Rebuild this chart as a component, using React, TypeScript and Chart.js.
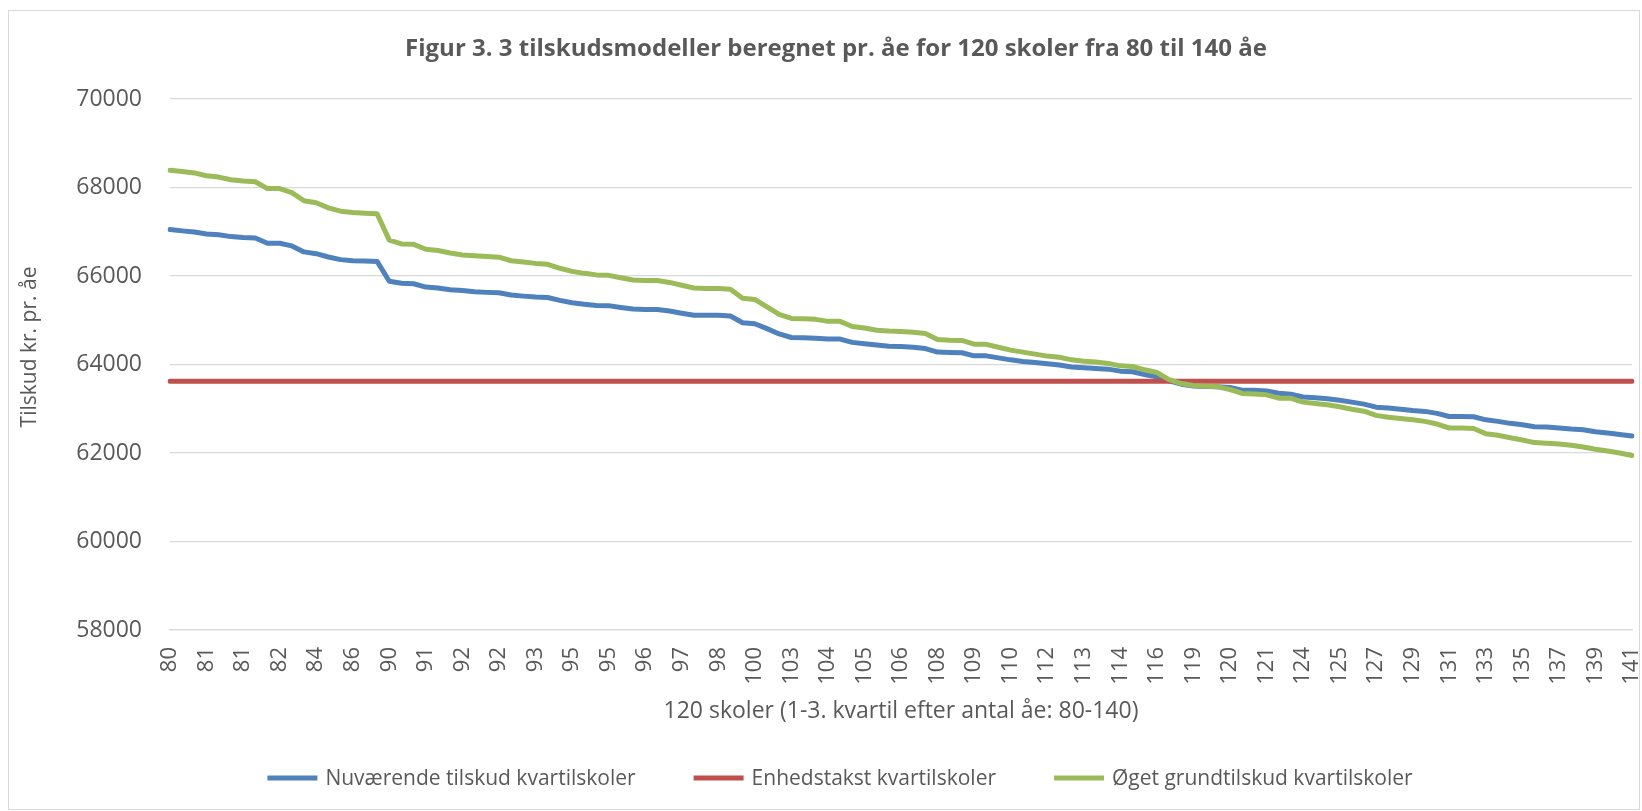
import React, { useEffect, useRef } from "react";
import { Chart, registerables } from "chart.js";

Chart.register(...registerables);

const TITLE = "Figur 3. 3 tilskudsmodeller beregnet pr. åe for 120 skoler fra 80 til 140 åe";
const X_TITLE = "120 skoler (1-3. kvartil efter antal åe: 80-140)";
const Y_TITLE = "Tilskud kr. pr. åe";

const SERIES_NAMES = [
  "Nuværende tilskud kvartilskoler",
  "Enhedstakst kvartilskoler",
  "Øget grundtilskud kvartilskoler",
];

// Antal åe per school (category labels); every 3rd is shown on the axis
const LABELS = [
  80, 80, 81, 81, 81, 81, 81, 81, 82, 82, 82, 83, 84, 84, 85, 86, 86, 86, 90, 90,
  90, 91, 91, 92, 92, 92, 92, 92, 93, 93, 93, 94, 94, 95, 95, 95, 95, 96, 96, 96,
  96, 97, 97, 98, 98, 98, 98, 100, 100, 101, 102, 103, 103, 103, 104, 104, 105, 105, 106, 106,
  106, 106, 107, 108, 108, 108, 109, 109, 110, 110, 111, 111, 112, 112, 113, 113, 113, 114, 114, 114,
  115, 116, 118, 119, 119, 119, 120, 120, 121, 121, 121, 122, 122, 124, 124, 124, 125, 126, 126, 127,
  128, 128, 129, 129, 130, 131, 131, 131, 133, 133, 134, 135, 136, 136, 137, 137, 138, 139, 139, 140,
  141,
];

const NUVAERENDE = [
  67050, 67020, 66995, 66950, 66930, 66890, 66870, 66860, 66740, 66740,
  66680, 66545, 66505, 66430, 66370, 66345, 66340, 66330, 65880, 65835,
  65825, 65750, 65730, 65690, 65670, 65645, 65630, 65620, 65570, 65545,
  65525, 65515, 65450, 65395, 65360, 65335, 65330, 65290, 65255, 65245,
  65245, 65210, 65160, 65115, 65115, 65115, 65095, 64945, 64920, 64810,
  64690, 64610, 64605, 64595, 64575, 64575, 64500, 64470, 64440, 64410,
  64405, 64390, 64360, 64280, 64270, 64265, 64195, 64195, 64150, 64105,
  64070, 64045, 64015, 63990, 63945, 63925, 63910, 63895, 63850, 63835,
  63775, 63720, 63630, 63555, 63515, 63500, 63495, 63480, 63420, 63420,
  63400, 63350, 63330, 63265, 63250, 63225, 63190, 63150, 63105, 63035,
  63015, 62990, 62960, 62940, 62895, 62825, 62825, 62820, 62750, 62715,
  62670, 62640, 62595, 62585, 62565, 62540, 62525, 62480, 62450, 62420,
  62385,
];

const OEGET = [
  68390, 68360, 68330, 68265, 68235, 68175, 68145, 68130, 67975, 67975,
  67885, 67700, 67655, 67540, 67465, 67435, 67420, 67405, 66810, 66725,
  66715, 66605, 66575, 66520, 66475, 66460, 66440, 66425, 66345, 66315,
  66285, 66265, 66175, 66105, 66060, 66025, 66015, 65960, 65910, 65900,
  65900, 65855, 65790, 65730, 65720, 65720, 65700, 65495, 65470, 65300,
  65130, 65040, 65035, 65020, 64975, 64975, 64860, 64825, 64775, 64755,
  64745, 64730, 64700, 64565, 64550, 64545, 64460, 64455, 64390, 64325,
  64280, 64235, 64190, 64165, 64105, 64075, 64055, 64025, 63970, 63955,
  63880, 63820, 63660, 63570, 63525, 63510, 63495, 63435, 63345, 63335,
  63315, 63240, 63235, 63150, 63120, 63090, 63045, 62990, 62945, 62850,
  62810, 62780, 62750, 62715, 62655, 62565, 62565, 62555, 62435, 62400,
  62345, 62295, 62235, 62220, 62205, 62175, 62135, 62085, 62045, 62000,
  61945,
];

// Single unit rate, the same for every school
const ENHEDSTAKST_VALUE = 63620;
const ENHEDSTAKST = LABELS.map(() => ENHEDSTAKST_VALUE);

const Y_MIN = 58000;
const Y_MAX = 70000;
const Y_STEP = 2000;

const COLORS = ["#4f81bd", "#c0504d", "#9bbb59"];
const TEXT_COLOR = "#595959";
const GRID_COLOR = "#d9d9d9";
const FONT = '"Open Sans", sans-serif';

const CANVAS_W = 1630;
const CANVAS_H = 798;

const overlayPlugin = {
  id: "overlay",
  afterDraw(chart: any) {
    const ctx = chart.ctx as CanvasRenderingContext2D;
    ctx.save();
    ctx.fillStyle = TEXT_COLOR;
    ctx.textBaseline = "middle";
    // title
    ctx.font = `bold 24px ${FONT}`;
    ctx.textAlign = "center";
    ctx.fillText(TITLE, chart.width / 2 + 12, 38);

    // y axis title
    ctx.save();
    ctx.font = `21px ${FONT}`;
    ctx.translate(21, 336);
    ctx.rotate(-Math.PI / 2);
    ctx.textAlign = "center";
    ctx.fillText(Y_TITLE, 0, 0);
    ctx.restore();

    // legend
    ctx.font = `21px ${FONT}`;
    ctx.textAlign = "left";
    const lineW = 50;
    const gapLT = 8;
    const gapItems = 58;
    const items = chart.data.datasets.map((ds: any) => ({
      text: ds.label as string,
      color: ds.borderColor as string,
      w: ctx.measureText(ds.label).width,
    }));
    const total =
      items.reduce((s: number, it: any) => s + lineW + gapLT + it.w, 0) +
      gapItems * (items.length - 1);
    let x = chart.width / 2 + 16 - total / 2;
    const y = 767;
    for (const it of items) {
      ctx.strokeStyle = it.color;
      ctx.lineWidth = 5;
      ctx.lineCap = "butt";
      ctx.beginPath();
      ctx.moveTo(x, y);
      ctx.lineTo(x + lineW, y);
      ctx.stroke();
      ctx.fillStyle = TEXT_COLOR;
      ctx.fillText(it.text, x + lineW + gapLT, y + 1);
      x += lineW + gapLT + it.w + gapItems;
    }
    ctx.restore();
  },
};

export default function App() {
  const canvasRef = useRef<HTMLCanvasElement | null>(null);

  useEffect(() => {
    if (!canvasRef.current) return;
    const lineStyle = {
      borderWidth: 5,
      pointRadius: 0,
      pointHoverRadius: 0,
      tension: 0,
      borderCapStyle: "round" as const,
      borderJoinStyle: "round" as const,
      fill: false,
    };
    const chart = new Chart(canvasRef.current, {
      type: "line",
      data: {
        labels: LABELS.map(String),
        datasets: [
          {
            label: SERIES_NAMES[0],
            data: NUVAERENDE,
            borderColor: COLORS[0],
            backgroundColor: COLORS[0],
            order: 2,
            ...lineStyle,
          },
          {
            label: SERIES_NAMES[1],
            data: ENHEDSTAKST,
            borderColor: COLORS[1],
            backgroundColor: COLORS[1],
            order: 1,
            ...lineStyle,
          },
          {
            label: SERIES_NAMES[2],
            data: OEGET,
            borderColor: COLORS[2],
            backgroundColor: COLORS[2],
            order: 0,
            ...lineStyle,
          },
        ],
      },
      options: {
        responsive: false,
        animation: false,
        events: [],
        layout: { padding: { left: 0, right: 7, top: 88, bottom: 84 } },
        plugins: {
          legend: { display: false },
          title: { display: false },
          tooltip: { enabled: false },
        },
        scales: {
          x: {
            type: "category",
            offset: false,
            grid: { display: false, drawTicks: false },
            border: { display: true, color: GRID_COLOR, width: 1.3 },
            ticks: {
              autoSkip: false,
              maxRotation: 90,
              minRotation: 90,
              padding: 17,
              color: TEXT_COLOR,
              font: { family: FONT, size: 22 },
              callback: (_v: any, i: number) => (i % 3 === 0 ? String(LABELS[i]) : ""),
            },
            title: {
              display: true,
              text: X_TITLE,
              color: TEXT_COLOR,
              font: { family: FONT, size: 23 },
              padding: { top: 0, bottom: 0 },
            },
            afterFit: (s: any) => {
              s.height = 95;
              s.paddingLeft = 0;
              s.paddingRight = 0;
            },
          },
          y: {
            min: Y_MIN,
            max: Y_MAX,
            grid: { color: GRID_COLOR, lineWidth: 1.3, drawTicks: false },
            border: { display: false },
            ticks: {
              stepSize: Y_STEP,
              padding: 28,
              color: TEXT_COLOR,
              font: { family: FONT, size: 23 },
              callback: (v: any) => String(v),
            },
            title: { display: false },
            afterFit: (s: any) => {
              s.width = 161;
            },
          },
        },
      },
      plugins: [overlayPlugin],
    });
    return () => chart.destroy();
  }, []);

  return (
    <div
      style={{
        position: "absolute",
        left: 8,
        top: 10,
        width: CANVAS_W + 2,
        height: CANVAS_H + 2,
        border: `1px solid ${GRID_COLOR}`,
        boxSizing: "border-box",
        background: "#fff",
      }}
    >
      <canvas
        ref={canvasRef}
        width={CANVAS_W}
        height={CANVAS_H}
        style={{ display: "block", width: CANVAS_W, height: CANVAS_H }}
      />
    </div>
  );
}
